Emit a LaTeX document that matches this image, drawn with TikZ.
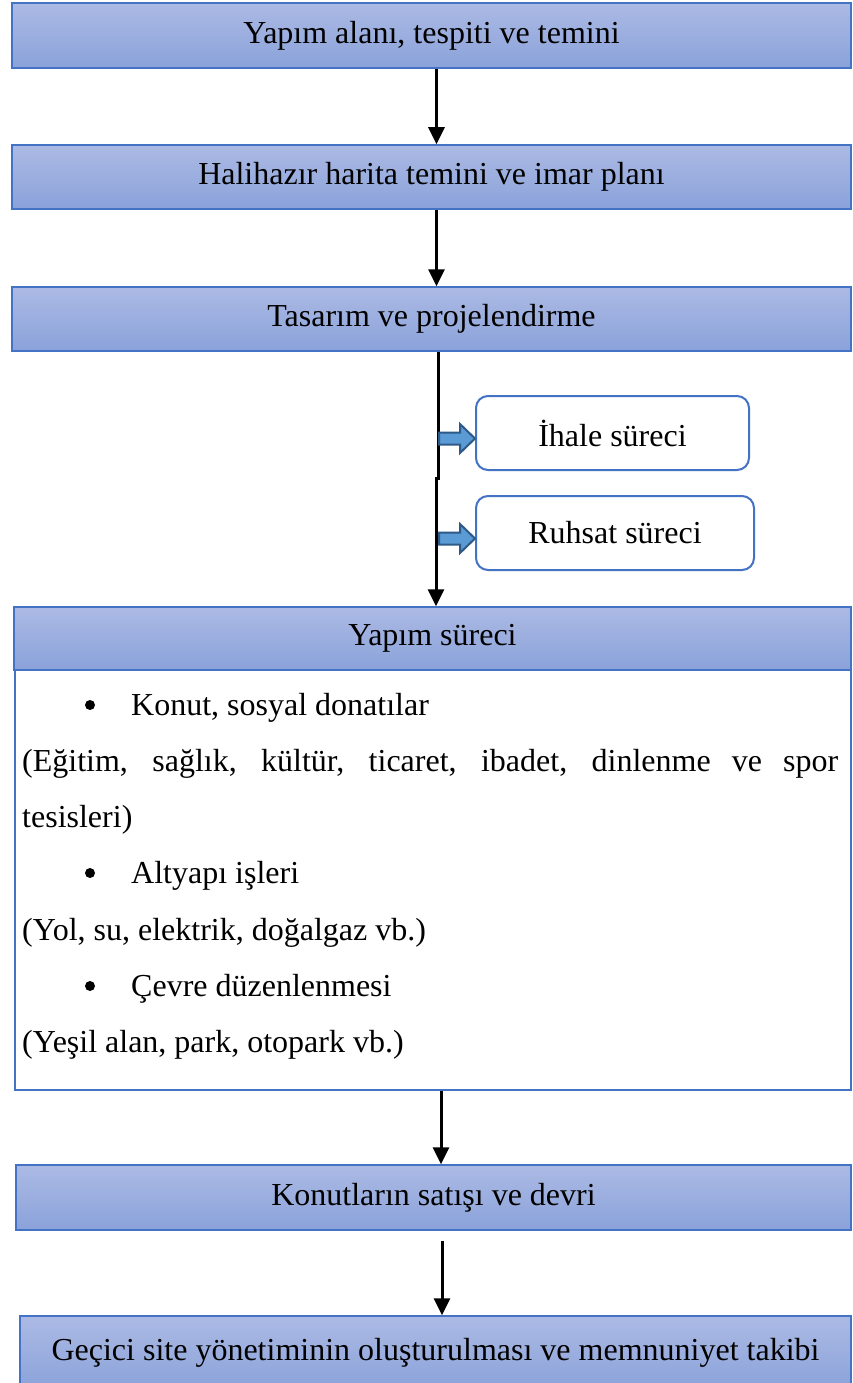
\documentclass[tikz,border=0pt]{standalone}
\usepackage{fontspec}
\setmainfont{Liberation Serif}
\usetikzlibrary{arrows.meta,calc}
\definecolor{boxedge}{HTML}{4472C4}
\definecolor{boxtop}{RGB}{172,186,228}
\definecolor{boxbot}{RGB}{138,162,218}
\definecolor{blkfill}{HTML}{5B9BD5}
\definecolor{blkedge}{HTML}{2E5A88}
\tikzset{
  every node/.style={font=\fontsize{32}{38}\selectfont, inner sep=0pt},
  stage/.style={draw=boxedge, line width=1.5pt, top color=boxtop, bottom color=boxbot, rectangle},
  sidebox/.style={draw=boxedge, line width=2pt, rounded corners=12pt, fill=white, rectangle},
  dotmark/.style={circle, fill=black, minimum size=10pt},
  flow/.style={line width=3pt, -{Triangle[length=17pt,width=16pt]}},
  rail/.style={line width=3pt},
  blk/.style={fill=blkfill, draw=blkedge, line width=2pt, line join=miter},
}
\begin{document}
\begin{tikzpicture}[x=1pt,y=-1pt]
  \clip (0,0) rectangle (853,1383);
  \fill[white] (0,0) rectangle (853,1383);

  % main stages
  \node[stage, minimum width=839pt, minimum height=65pt] (b1) at (431.5,35.5) {Yapım alanı, tespiti ve temini};
  \node[stage, minimum width=839pt, minimum height=64pt] (b2) at (431.5,177) {Halihazır harita temini ve imar planı};
  \node[stage, minimum width=839pt, minimum height=64pt] (b3) at (431.5,319) {Tasarım ve projelendirme};

  % construction stage: body frame and header
  \node[draw=boxedge, line width=1.5pt, minimum width=836pt, minimum height=420pt] (body) at (433,880) {};
  \node[stage, minimum width=837pt, minimum height=63pt] (hdr) at (432.5,638.5) {Yapım süreci};

  \node[stage, minimum width=835pt, minimum height=65pt] (b6) at (433.5,1197.5) {Konutların satışı ve devri};
  \node[stage, minimum width=831pt, minimum height=74pt] (b7) at (435.5,1353) {Geçici site yönetiminin oluşturulması ve memnuniyet takibi};

  % side processes
  \node[sidebox, minimum width=273pt, minimum height=74pt] (ihale) at (612.5,433) {İhale süreci};
  \node[sidebox, minimum width=278pt, minimum height=74pt] (ruhsat) at (615,533) {Ruhsat süreci};

  % body text
  \node[dotmark] (d1) at (90,705) {};
  \node[anchor=base west] (t1) at (131,715) {Konut, sosyal donatılar};
  \node[anchor=base west] (t2) at (22,771) {\makebox[816pt][s]{(Eğitim, sağlık, kültür, ticaret, ibadet, dinlenme ve spor}};
  \node[anchor=base west] (t3) at (22,827) {tesisleri)};
  \node[dotmark] (d2) at (90,873) {};
  \node[anchor=base west] (t4) at (131,883) {Altyapı işleri};
  \node[anchor=base west] (t5) at (22,940) {(Yol, su, elektrik, doğalgaz vb.)};
  \node[dotmark] (d3) at (90,986) {};
  \node[anchor=base west] (t6) at (131,996) {Çevre düzenlenmesi};
  \node[anchor=base west] (t7) at (22,1052) {(Yeşil alan, park, otopark vb.)};

  % connectors
  \draw[flow] ([xshift=5pt]b1.south) -- ([xshift=5pt]b2.north);
  \draw[flow] ([xshift=5pt]b2.south) -- ([xshift=5pt]b3.north);
  \coordinate (j1) at (438,480);
  \coordinate (j2) at (436,477);
  \draw[rail] (b3.south -| j1) -- (j1);
  \draw[flow] (j2) -- (j2 |- hdr.north);
  \draw[flow] ([xshift=8pt]body.south) -- ([xshift=7.5pt]b6.north);
  \draw[flow] ([xshift=8.5pt,yshift=-10pt]b6.south) -- ([xshift=6.5pt]b7.north);

  % block arrows into side processes
  \draw[blk] ($(ihale.west)+(0,5.5)$) -- ++(-15,-14.5) -- ++(0,8.5) -- ++(-21,0) -- ++(0,12) -- ++(21,0) -- ++(0,8.5) -- cycle;
  \draw[blk] ($(ruhsat.west)+(0,5.5)$) -- ++(-15,-14.5) -- ++(0,8.5) -- ++(-21,0) -- ++(0,12) -- ++(21,0) -- ++(0,8.5) -- cycle;
\end{tikzpicture}
\end{document}
